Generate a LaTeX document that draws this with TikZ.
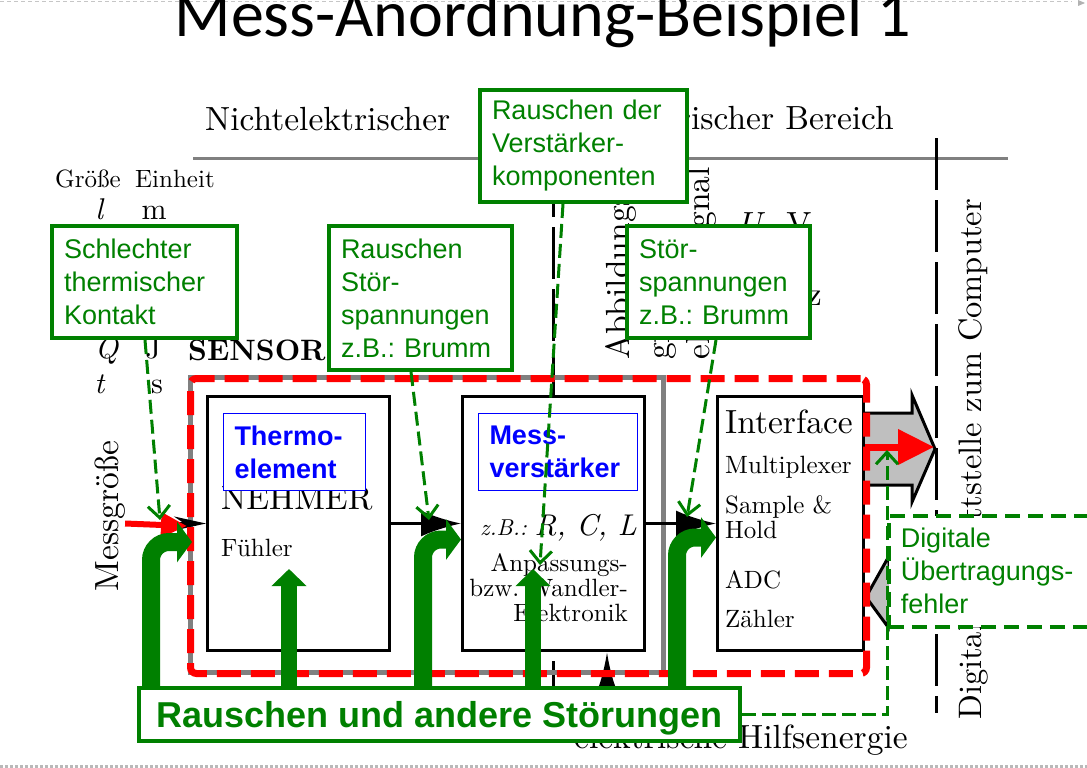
\documentclass[tikz,border=0pt]{standalone}
\usepackage{fontspec}
\setmainfont{lmroman10-regular}[Extension=.otf, BoldFont=lmroman10-bold,
ItalicFont=lmroman10-italic, BoldItalicFont=lmroman10-bolditalic]
\newfontfamily\titlefont{Carlito}
\newfontfamily\notefont{Liberation Sans}
\usetikzlibrary{positioning, arrows.meta}
\definecolor{notegreen}{RGB}{0,128,0}
\definecolor{tagblue}{RGB}{0,0,255}
\frenchspacing
\tikzset{every node/.style={inner sep=0pt}, % text nodes sit right on their point
big/.style={font=\fontsize{33.5}{40}\selectfont},
small/.style={font=\fontsize{25}{25}\selectfont},
unit/.style={font=\fontsize{30}{30}\selectfont},
block/.style={ % the three function blocks
draw, line width=3pt, fill=white, anchor=north west, minimum height=254pt},
grayframe/.style={draw=gray, line width=5pt, anchor=north west,
minimum width=473pt, minimum height=295pt},
redbox/.style={draw=red, line width=7pt, dash pattern=on 24pt off 10pt,
rounded corners=6pt, anchor=north west, minimum width=676pt, minimum height=295pt},
note/.style={ % green comment boxes
draw=notegreen, line width=4pt, fill=white, text=notegreen, anchor=north west,
align=left, inner xsep=12pt, font=\notefont\fontsize{27}{33}\selectfont},
tag/.style={draw=tagblue, line width=1pt, fill=white, text=tagblue, anchor=north west,
align=left, inner xsep=11pt, minimum height=77pt,
font=\notefont\bfseries\fontsize{27}{33}\selectfont},
sep/.style={line width=3pt, dash pattern=on 52pt off 10pt},
sig/.style={line width=2.5pt, -{Latex[length=40pt,width=26pt]}},
fat/.style={draw, fill=black!25, line width=3pt, line join=miter},
hint/.style={notegreen, line width=3pt, dash pattern=on 14pt off 6pt,
-{Straight Barb[length=12pt,width=22pt]}},
bendarrow/.style={notegreen, line width=18pt, rounded corners=18pt,
-{Triangle[length=15pt,width=40pt]}},
uparrow/.style={notegreen, line width=16pt, -{Triangle[length=17pt,width=34pt]}}}

\begin{document}
\begin{tikzpicture}[x=1pt, y=-1pt]
\useasboundingbox (0,0) rectangle (1087,768);

% slide frame and title
\draw[gray!45, line width=1pt, dash pattern=on 4pt off 3pt] (0,2) -- (1072,2);
\fill[gray!60] (1078,0) -- (1085,3) -- (1078,6) -- cycle;
\draw[gray!55, line width=3pt, dash pattern=on 3pt off 2pt] (0,766) -- (1087,766);
\node[anchor=base, font=\titlefont\fontsize{66}{70}\selectfont] (title) at (543,37) {Mess-Anordnung-Beispiel 1};

% Bereiche
\node[big, anchor=base west] (nichtel) at (205,130) {Nichtelektrischer};
\node[big, anchor=base east] (elek) at (894,129) {Elektrischer Bereich};
\draw[gray, line width=3pt] (193,158) -- (1008,158);
\draw[sep] (553,165) -- (553,700);
\draw[sep] (936,138) -- (936,713);

% Groessen und Einheiten
\node[small, anchor=base west] (groesse) at (55,187) {Größe};
\node[small, anchor=base west] (einheit) at (135,187) {Einheit};
\node[unit, anchor=base] (gl) at (100,219) {\textit{l}};
\node[unit, anchor=base] (gm) at (154,219) {m};
\node[unit, anchor=base] (gq) at (107,358) {\textit{Q}};
\node[unit, anchor=base] (gj) at (153,358) {J};
\node[unit, anchor=base] (gt) at (100,393) {\textit{t}};
\node[unit, anchor=base] (gs) at (157,393) {s};
\node[anchor=base west, font=\fontsize{29.5}{29.5}\selectfont\bfseries] (sensor) at (188,360) {SENSOR};
\node[big, rotate=90, anchor=base] (messgr) at (118,516) {Messgröße};
\node[big, rotate=90, anchor=north west, align=left] (abb) at (605,360) {Abbildungs-\\größe\\elektr. Signal};
\node[big, anchor=base] (gu) at (751,235) {\textit{U}};
\node[big, anchor=base] (gv) at (799,235) {V};
\node[big, anchor=base east] (ghz) at (822,305) {Hz};
\node[big, anchor=base east] (hilfs) at (908,748) {elektrische Hilfsenergie};
\node[rotate=90, anchor=base west, font=\fontsize{32.5}{40}\selectfont] (schnitt) at (981,720) {Digitale Schnittstelle zum Computer};

% Daten zum und vom Computer
\draw[fat] (862,413) -- (912,413) -- (912,395) -- (935,449) -- (912,502) -- (912,485) -- (862,485) -- cycle;
\draw[fat] (936,576) -- (889,576) -- (889,556) -- (866,597) -- (888,627) -- (888,616) -- (936,616) -- cycle;

% Messkette
\node[grayframe] (sensorbox) at (188,375) {};
\node[block, minimum width=182pt] (aufn) at (206,395) {};
\node[block, minimum width=182pt] (verst) at (461,395) {};
\node[block, minimum width=146pt] (iface) at (716,395) {};

\node[big, anchor=base west] (nehmer) at (221,509) {NEHMER};
\node[small, anchor=base west] (fuehler) at (221,556) {Fühler};
\node[anchor=base west] (rcl) at (480,535) {\fontsize{23}{23}\selectfont\textit{z.B.:} \fontsize{30}{30}\selectfont\textit{R, C, L}};
\node[small, anchor=north east, align=right] (anpass) at (628,553) {Anpassungs-\\bzw. Wandler-\\Elektronik};
\node[big, anchor=base west] (interf) at (725,433) {Interface};
\node[small, anchor=base west] (mux) at (725,473) {Multiplexer};
\node[small, anchor=base west] (sample) at (725,513) {Sample \&};
\node[small, anchor=base west] (hold) at (725,538) {Hold};
\node[small, anchor=base west] (adc) at (725,588) {ADC};
\node[small, anchor=base west] (zaehler) at (725,627) {Zähler};

\coordinate (hf) at (607,650);
\draw[sig] (aufn) -- (verst);
\draw[sig] (verst) -- (iface);
\draw[line width=2.5pt, -{Stealth[length=32pt,width=14pt]}] (messgr.south |- aufn) -- (aufn);
\draw[line width=2.5pt, -{Latex[length=35pt,width=17pt]}] (hilfs.north -| hf) -- (verst.south -| hf);

% Fehlerquellen
\node[redbox] (redframe) at (187,375) {};
\draw[red, line width=6pt, -{Triangle[length=26pt,width=24pt]}] (messgr.south |- aufn) -- (redframe.west);
\coordinate (ctip) at (934,447);
\draw[red, line width=7pt, -{Triangle[length=36pt,width=34pt]}] (iface.east |- ctip) -- (ctip);

\node[tag, text width=120pt] (thermo) at (223,413) {Thermo-\\element};
\node[tag, text width=137pt] (messv) at (478,413) {Mess-\\verstärker};

\node[draw=notegreen, line width=4pt, fill=white, text=notegreen, minimum width=601pt,
minimum height=53pt, text depth=0pt, font=\notefont\bfseries\fontsize{36}{36}\selectfont]
(noise) at (439.5,714.5) {Rauschen und andere Störungen};

\coordinate (f1) at (151,600);
\coordinate (f2) at (423,600);
\coordinate (f3) at (677,600);
\coordinate (t1) at ([xshift=5pt, yshift=-16pt]redframe.west);
\coordinate (t2) at ([yshift=-16pt]verst.west);
\coordinate (t3) at ([yshift=-14pt]iface.west);
\coordinate (u1) at (289,569);
\coordinate (u2) at (533,569);
\draw[bendarrow] (noise.north -| f1) |- (t1);
\draw[bendarrow] (noise.north -| f2) |- (t2);
\draw[bendarrow] (noise.north -| f3) |- (t3);
\draw[uparrow] (noise.north -| u1) -- (u1);
\draw[uparrow] (noise.north -| u2) -- (u2);

% Kommentare
\node[note, text width=161pt, minimum height=112pt] (kontakt) at (50,224) {Schlechter\\thermischer\\Kontakt};
\node[note, text width=159pt, minimum height=144pt] (stoerA) at (327,224) {Rauschen\\Stör-\\spannungen\\z.B.: Brumm};
\node[note, text width=183pt, minimum height=112pt] (rauschv) at (478,88) {Rauschen der\\Verstärker-\\komponenten};
\node[note, text width=159pt, minimum height=112pt] (stoerB) at (625,224) {Stör-\\spannungen\\z.B.: Brumm};
\node[note, line width=3.5pt, dash pattern=on 15pt off 8pt, text width=216pt, minimum height=111pt] (uebertr) at (887,514) {Digitale\\Übertragungs-\\fehler};

\coordinate (h1) at (160,520);
\coordinate (h2) at (429,520);
\coordinate (h3) at (540,565);
\coordinate (h4) at (687,517);
\coordinate (h5) at (887,450);
\draw[hint] ([xshift=95pt]kontakt.south west) -- (h1);
\draw[hint] ([xshift=84pt]stoerA.south west) -- (h2);
\draw[hint] ([xshift=85pt]rauschv.south west) -- (h3);
\draw[hint] ([xshift=91pt]stoerB.south west) -- (h4);
\draw[hint] (noise.east) -| (h5);

\end{tikzpicture}
\end{document}
